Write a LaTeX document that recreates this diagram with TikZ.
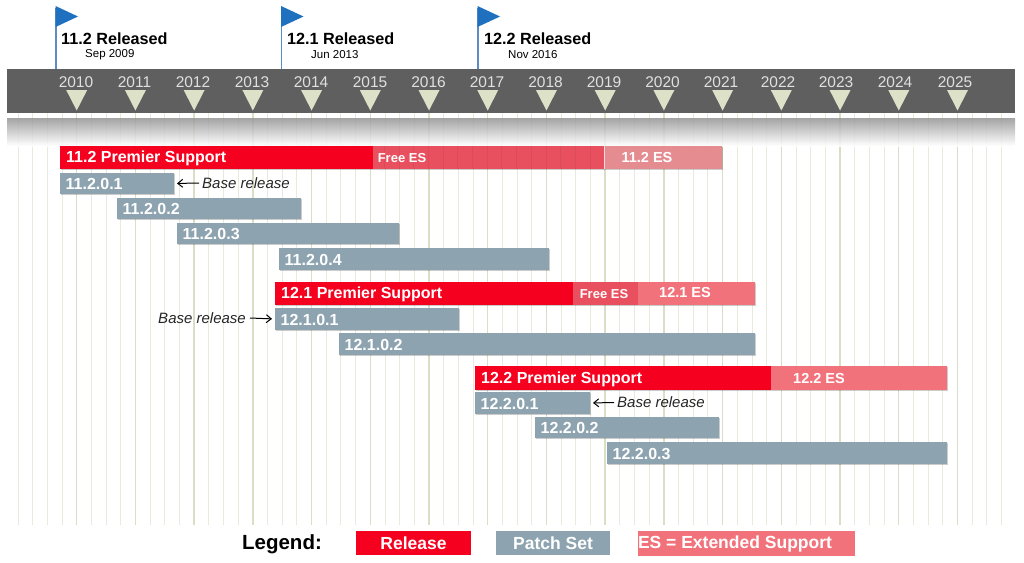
\documentclass[tikz,border=0pt]{standalone}
\usepackage{fontspec}
\setmainfont{Liberation Sans}
\usetikzlibrary{arrows.meta}
\definecolor{band}{HTML}{5F5F5F}
\definecolor{grid}{HTML}{E8EADC}
\definecolor{gridmajor}{HTML}{DADEC4}
\definecolor{tri}{HTML}{DDE1C8}
\definecolor{rel}{HTML}{F5001E}
\definecolor{patch}{HTML}{8DA4B0}
\definecolor{freees}{HTML}{E9505F}
\definecolor{esa}{HTML}{E58C91}
\definecolor{esb}{HTML}{F2727C}
\definecolor{flag}{HTML}{1F70BE}
\definecolor{pole}{HTML}{5B8CC4}
\tikzset{
 x=1pt,y=-1pt,
 barlabel/.style={text=white,font=\bfseries\fontsize{16}{18}\selectfont,anchor=west,inner sep=0pt},
 eslabel/.style={text=white,font=\bfseries\fontsize{14.5}{16}\selectfont,anchor=center,inner sep=0pt},
 freelabel/.style={text=white,font=\bfseries\fontsize{13}{15}\selectfont,anchor=center,inner sep=0pt},
 yr/.style={text=white!88!black,font=\fontsize{15.5}{17}\selectfont,inner sep=0pt},
 baserel/.style={font=\itshape\fontsize{15}{17}\selectfont,inner sep=0pt,text=black!85},
 baserow/.style={-{Straight Barb[length=5pt,width=8pt]},black,line width=1pt,shorten >=3pt},
 relbig/.style={font=\bfseries\fontsize{16.2}{18}\selectfont,anchor=west,inner sep=0pt},
 relsmall/.style={font=\fontsize{11.5}{13}\selectfont,anchor=west,inner sep=0pt},
 legendbox/.style={inner sep=0pt,outer sep=0pt,text=white,font=\bfseries\fontsize{17.5}{19}\selectfont},
 solidbox/.style={anchor=north west,inner sep=0pt,outer sep=0pt},
}
\begin{document}
\begin{tikzpicture}
\useasboundingbox (0,0) rectangle (1024,562);
% grid lines
\foreach \i in {0,...,67}{
  \pgfmathsetmacro{\xx}{18+14.68*\i}
  \draw[grid,line width=1pt] (\xx,113) -- (\xx,525);
}
\foreach \i in {0,...,15}{
  \pgfmathsetmacro{\xx}{76.7+58.72*\i}
  \draw[gridmajor,line width=1.4pt] (\xx,113) -- (\xx,525);
}
% shaded strip, with the grid showing faintly through it
\shade[top color=black!42,bottom color=white,opacity=.85] (7,118) rectangle (1015,146);
% band
\fill[band] (7,69) rectangle (1015,113);
% years
\foreach \i/\y/\lx in {0/2010/76,1/2011/134.5,2/2012/193,3/2013/252,4/2014/311,5/2015/370,6/2016/428.5,7/2017/487,8/2018/545.5,9/2019/604,10/2020/662.5,11/2021/721,12/2022/778,13/2023/836,14/2024/895,15/2025/955}{
  \pgfmathsetmacro{\xx}{76.7+58.72*\i}
  \fill[tri] (\xx-10.5,90) -- (\xx+10.5,90) -- (\xx,110.5) -- cycle;
  \node[yr] (y\y) at (\lx,82) {\y};
}
% flags
\foreach \n/\xx in {a/56,b/281.5,c/478}{
  \draw[pole,line width=1.4pt] (\xx,8) -- (\xx,69);
  \fill[flag] (\xx-.5,6) -- (\xx+22,16.5) -- (\xx-.5,27) -- cycle;
}
\node[relbig] (ra) at (61,38.5) {11.2 Released};
\node[relsmall] (rad) at (85,55) {Sep 2009};
\node[relbig] (rb) at (287,38.5) {12.1 Released};
\node[relsmall] (rbd) at (311,55) {Jun 2013};
\node[relbig] (rc) at (484,38.5) {12.2 Released};
\node[relsmall] (rcd) at (508,55) {Nov 2016};
% ES bars 11.2
\fill[black,opacity=.2] (61,147) rectangle (723,170);
\node[solidbox,fill=esa,minimum width=118pt,minimum height=23pt] (e112) at (604,146) {};
\node[solidbox,fill=freees,minimum width=231pt,minimum height=23pt] (f112) at (373,146) {};
\node[solidbox,fill=rel,minimum width=313pt,minimum height=23pt] (p112) at (60,146) {};
\foreach \i in {0,...,15}{\pgfmathsetmacro{\xx}{384.5+14.68*\i}\draw[freees!94!black,line width=.9pt] (\xx,146) -- (\xx,169);}
\draw[white,opacity=.8,line width=.6pt] (604,146) -- (604,169);
\node[freelabel] (f112t) at (402,158.5) {Free ES};
\node[eslabel] (e112t) at (647,158) {11.2 ES};
\node[barlabel] (p112t) at (66,158) {11.2 Premier Support};
% 12.1
\fill[black,opacity=.2] (276,283) rectangle (756,306);
\node[solidbox,fill=esb,minimum width=117pt,minimum height=23pt] (e121) at (638,282) {};
\node[solidbox,fill=freees,minimum width=65pt,minimum height=23pt] (f121) at (573,282) {};
\node[solidbox,fill=rel,minimum width=298pt,minimum height=23pt] (p121) at (275,282) {};
\node[freelabel] (f121t) at (604,294) {Free ES};
\node[eslabel] (e121t) at (685,293) {12.1 ES};
\node[barlabel] (p121t) at (281,294) {12.1 Premier Support};
% 12.2
\fill[black,opacity=.2] (476,367) rectangle (948,391);
\node[solidbox,fill=esb,minimum width=176pt,minimum height=24pt] (e122) at (771,366) {};
\node[solidbox,fill=rel,minimum width=296pt,minimum height=24pt] (p122) at (475,366) {};
\node[eslabel] (e122t) at (819,378.5) {12.2 ES};
\node[barlabel] (p122t) at (481,379) {12.2 Premier Support};
% patch sets
\foreach \n/\a/\b/\c/\d/\t in {
 a/60/173/174/194/11.2.0.1,
 b/117/198/301/219/11.2.0.2,
 c/177/223/399/244/11.2.0.3,
 d/279/248/549/270/11.2.0.4,
 e/275/308/459/330/12.1.0.1,
 f/339/333/755/355/12.1.0.2,
 g/475/392/590/414/12.2.0.1,
 h/535/417/719/438/12.2.0.2,
 i/607/442/947/464/12.2.0.3}{
  \pgfmathsetlengthmacro{\ww}{(\c-\a)*1pt}
  \pgfmathsetlengthmacro{\hh}{(\d-\b)*1pt}
  \pgfmathsetmacro{\my}{(\b+\d)/2}
  \fill[black,opacity=.2] (\a+1,\b+1) rectangle (\c+1,\d+1);
  \node[solidbox,fill=patch,minimum width=\ww,minimum height=\hh] (ps\n) at (\a,\b) {};
  \node[barlabel] (ps\n t) at (\a+5.5,\my+.5) {\t};
}
% base release
\node[baserel,anchor=west] (bra) at (202,183) {Base release};
\draw[baserow] (bra.west) ++(-3,0) -- (psa.east);
\node[baserel,anchor=east] (brb) at (246,318) {Base release};
\draw[baserow] (brb.east) ++(4,0) -- (pse.west);
\node[baserel,anchor=west] (brc) at (617,402.5) {Base release};
\draw[baserow] (brc.west) ++(-3,0) -- (psg.east);
% legend
\node[font=\bfseries\fontsize{20.5}{22}\selectfont,inner sep=0pt] (lg) at (282,544.5) {Legend:};
\node[legendbox,fill=rel,minimum width=115pt,minimum height=24pt] (l1) at (413.5,543) {Release};
\node[legendbox,fill=patch,minimum width=114pt,minimum height=24pt] (l2) at (553,543) {Patch Set};
\node[solidbox,fill=esb,minimum width=217pt,minimum height=25pt] (l3) at (638,531) {};
\node[legendbox,anchor=west] (l3t) at (638,543.5) {ES = Extended Support};
\end{tikzpicture}
\end{document}
